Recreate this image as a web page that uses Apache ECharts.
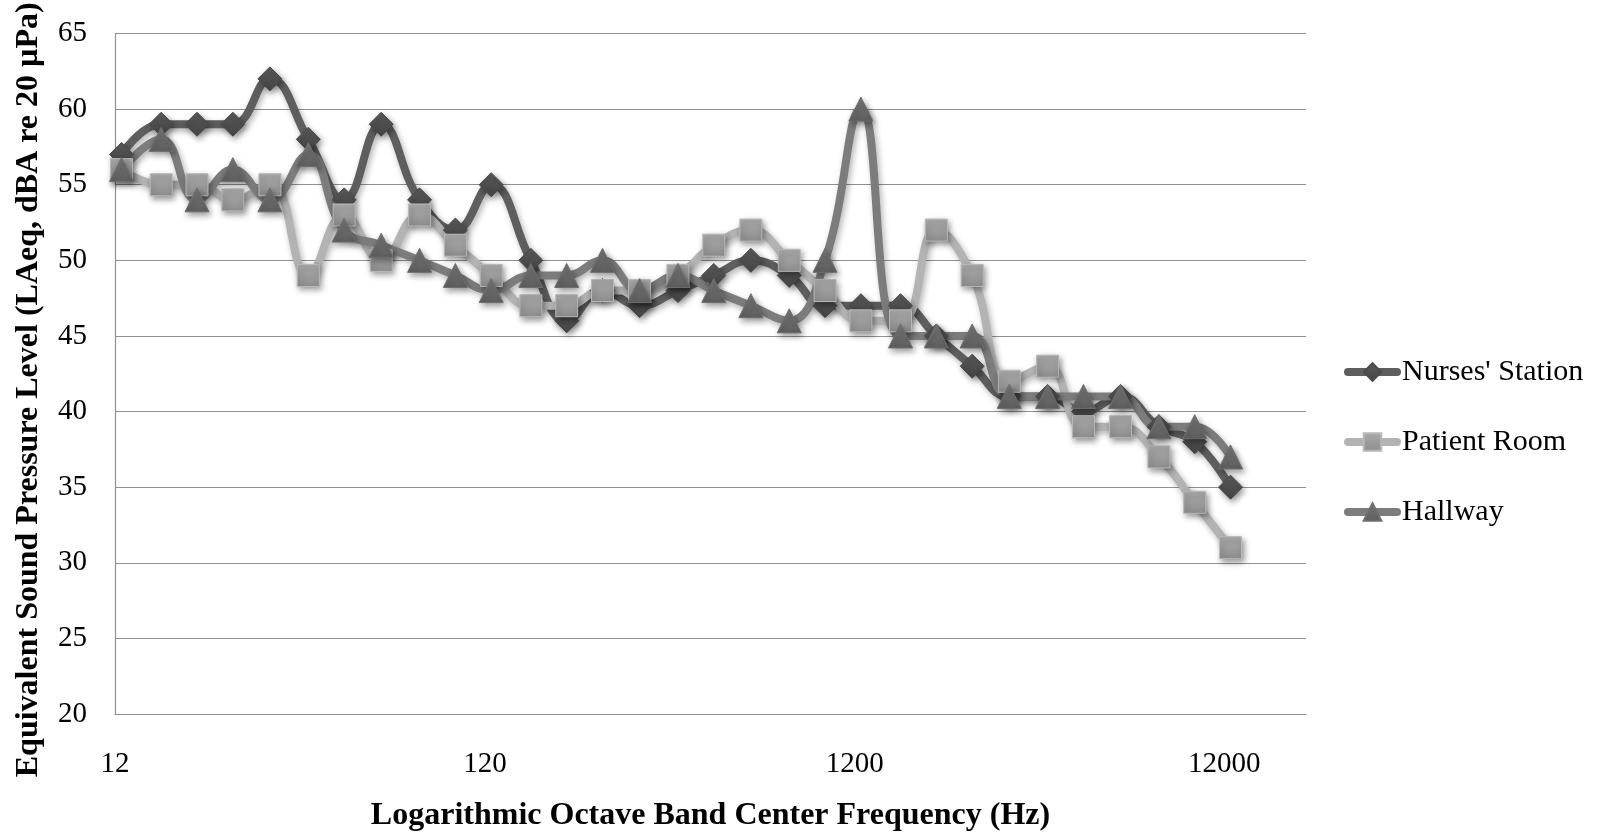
<!DOCTYPE html>
<html>
<head>
<meta charset="utf-8">
<script src="https://cdn.jsdelivr.net/npm/echarts@6/dist/echarts.min.js"></script>
<style>
html,body{margin:0;padding:0;background:#ffffff;}
#chart{width:1598px;height:836px;}
</style>
</head>
<body>
<div id="chart"></div>
<script>
// 1/3-octave band centre frequencies (Hz)
const frequencies = [12.5,16,20,25,31.5,40,50,63,80,100,125,160,200,250,315,400,500,630,800,1000,1250,1600,2000,2500,3150,4000,5000,6300,8000,10000,12500];
// LAeq values (dBA re 20 µPa)
const nursesStation = [57,59,59,59,62,58,54,59,54,52,55,50,46,48,47,48,49,50,49,47,47,47,45,43,41,41,40,41,39,38,35];
const patientRoom   = [56,55,55,54,55,49,53,50,53,51,49,47,47,48,48,49,51,52,50,48,46,46,52,49,42,43,39,39,37,34,31];
const hallway       = [56,58,54,56,54,57,52,51,50,49,48,49,49,50,48,49,48,47,46,50,60,45,45,45,41,41,41,41,39,39,37];
const seriesNames = ["Nurses' Station", "Patient Room", "Hallway"];
const xTickLabels = [12, 120, 1200, 12000];
const xAxisMax = 20000;
const yTickLabels = [20,25,30,35,40,45,50,55,60,65];

const pairs = (vals) => frequencies.map((f, i) => [f, vals[i]]);

const serif = '"Liberation Serif","Times New Roman",Times,serif';

function grad(top, bottom) {
  return new echarts.graphic.LinearGradient(0, 0, 0, 1, [
    {offset: 0, color: top}, {offset: 1, color: bottom}
  ]);
}

function makeSeries(name, vals, lineColor, symbol, symTop, symBottom, borderColor, size) {
  return {
    name: name,
    type: 'line',
    data: pairs(vals),
    smooth: 0.45,
    symbol: symbol,
    symbolSize: size,
    showAllSymbol: true,
    lineStyle: {
      color: lineColor, width: 8, cap: 'round', join: 'round',
      shadowColor: 'rgba(0,0,0,0.3)', shadowBlur: 6, shadowOffsetX: 2, shadowOffsetY: 3
    },
    itemStyle: {
      color: grad(symTop, symBottom),
      borderColor: borderColor, borderWidth: 1,
      shadowColor: 'rgba(0,0,0,0.4)', shadowBlur: 6, shadowOffsetX: 2, shadowOffsetY: 3
    },
    emphasis: {disabled: true},
    animation: false
  };
}

const chart = echarts.init(document.getElementById('chart'), null, {renderer: 'canvas'});
chart.setOption({
  backgroundColor: '#ffffff',
  animation: false,
  grid: {left: 115, right: 292, top: 33.5, bottom: 122, containLabel: false, outerBoundsMode: 'none'},
  legend: {
    orient: 'vertical',
    left: 1339, top: 352,
    itemWidth: 49, itemHeight: 22, itemGap: 40,
    data: seriesNames,
    lineStyle: {width: 8, cap: 'round'},
    textStyle: {fontFamily: serif, fontSize: 30, color: '#000', lineHeight: 30, padding: [0,0,0,0]}
  },
  xAxis: {
    type: 'log',
    logBase: 10,
    min: xTickLabels[0],
    max: xAxisMax,
    interval: 1,
    name: 'Logarithmic Octave Band Center Frequency (Hz)',
    nameLocation: 'middle',
    nameGap: 86,
    nameTextStyle: {fontFamily: serif, fontSize: 32, fontWeight: 'bold', color: '#000'},
    axisLine: {show: true, lineStyle: {color: '#909090', width: 1.2}},
    axisTick: {show: false},
    splitLine: {show: false},
    axisLabel: {
      fontFamily: serif, fontSize: 29, color: '#000', margin: 36,
      showMaxLabel: false,
      formatter: function (v) { return String(Number(v.toPrecision(2))); }
    }
  },
  yAxis: {
    type: 'value',
    min: yTickLabels[0],
    max: yTickLabels[yTickLabels.length - 1],
    interval: 5,
    name: 'Equivalent Sound Pressure Level (LAeq, dBA re 20 µPa)',
    nameLocation: 'middle',
    nameGap: 70,
    nameTextStyle: {fontFamily: serif, fontSize: 32, fontWeight: 'bold', color: '#000', padding: [0, 32, 0, 0]},
    axisLine: {show: true, lineStyle: {color: '#909090', width: 1.2}},
    axisTick: {show: false},
    splitLine: {show: true, lineStyle: {color: '#909090', width: 1.2}},
    axisLabel: {fontFamily: serif, fontSize: 29, color: '#000', margin: 28}
  },
  series: [
    makeSeries(seriesNames[0], nursesStation, '#5e5e5e', 'diamond', '#5a5a5a', '#444444', '#4a4a4a', 24),
    makeSeries(seriesNames[1], patientRoom,   '#b3b3b3', 'rect',    '#ababab', '#8e8e8e', '#b8b8b8', 22),
    makeSeries(seriesNames[2], hallway,       '#7c7c7c', 'triangle','#767676', '#5f5f5f', '#6e6e6e', 24)
  ]
});
</script>
</body>
</html>
